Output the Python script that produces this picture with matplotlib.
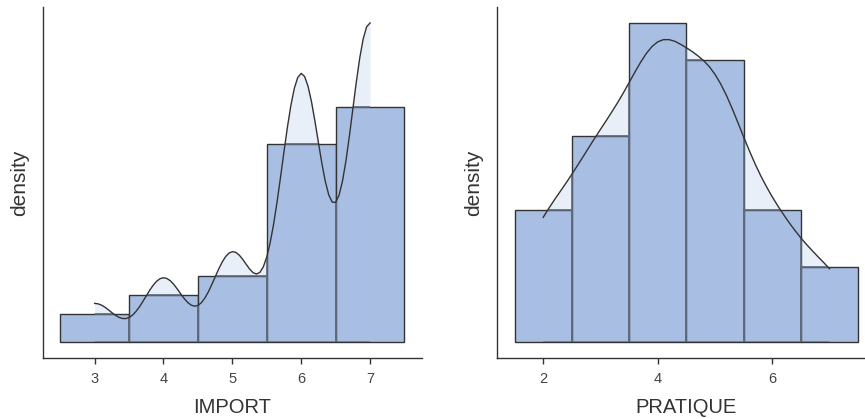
import numpy as np
import matplotlib
matplotlib.use("Agg")
import matplotlib.pyplot as plt

plt.rcParams['font.family'] = ['Liberation Sans', 'DejaVu Sans']

# IMPORT: histogram densities (bin width 1, centred on integers)
import_bins = [3, 4, 5, 6, 7]
import_dens = [0.0492, 0.0820, 0.1148, 0.3443, 0.4098]
# density curve, x from 3 to 7 in 0.05 steps
import_curve_x = np.round(np.arange(3, 7.001, 0.05), 2)
import_curve_y = [0.0668, 0.0661, 0.0638, 0.0602, 0.0557, 0.0508, 0.0463, 0.0427, 0.0406, 0.0403,
                  0.0422, 0.0464, 0.0527, 0.0607, 0.0701, 0.0800, 0.0898, 0.0985, 0.1054, 0.1099,
                  0.1115, 0.1102, 0.1062, 0.0999, 0.0920, 0.0835, 0.0754, 0.0686, 0.0639, 0.0620,
                  0.0633, 0.0680, 0.0760, 0.0866, 0.0992, 0.1128, 0.1262, 0.1383, 0.1480, 0.1543,
                  0.1570, 0.1557, 0.1510, 0.1437, 0.1351, 0.1268, 0.1205, 0.1180, 0.1209, 0.1305,
                  0.1478, 0.1729, 0.2054, 0.2441, 0.2869, 0.3313, 0.3739, 0.4117, 0.4414, 0.4605,
                  0.4676, 0.4621, 0.4448, 0.4178, 0.3840, 0.3470, 0.3109, 0.2794, 0.2559, 0.2432,
                  0.2428, 0.2553, 0.2801, 0.3154, 0.3584, 0.4054, 0.4521, 0.4942, 0.5275, 0.5487,
                  0.5554]

# PRATIQUE
pratique_bins = [2, 3, 4, 5, 6, 7]
pratique_dens = [0.1148, 0.1803, 0.2787, 0.2459, 0.1148, 0.0656]
pratique_curve_x = np.round(np.arange(2, 7.001, 0.1), 2)
pratique_curve_y = [0.1088, 0.1168, 0.1244, 0.1316, 0.1389, 0.1464, 0.1542, 0.1621, 0.1701, 0.1780,
                    0.1857, 0.1933, 0.2011, 0.2091, 0.2176, 0.2266, 0.2356, 0.2443, 0.2520, 0.2581,
                    0.2622, 0.2641, 0.2641, 0.2626, 0.2600, 0.2570, 0.2537, 0.2500, 0.2458, 0.2405,
                    0.2337, 0.2253, 0.2152, 0.2038, 0.1915, 0.1790, 0.1669, 0.1554, 0.1449, 0.1354,
                    0.1266, 0.1185, 0.1109, 0.1037, 0.0970, 0.0907, 0.0849, 0.0795, 0.0742, 0.0691,
                    0.0638]

bar_col = '#A8BFE3'
fill_col = '#E9EFF8'
edge_col = '#333333'
edge_under = '#5f6b7c'   # edges look lighter where the density fill covers them
axis_col = '#333333'

fig = plt.figure(figsize=(8.65, 4.19), dpi=100)
ax1 = fig.add_axes([43/865, 61.3/419, 378.7/865, 350.7/419])
ax2 = fig.add_axes([497.4/865, 61.3/419, 378.0/865, 350.7/419])


def draw(ax, bins, dens, cx, cy, ticks, label):
    poly = ax.fill_between(cx, 0, cy, color=fill_col, lw=0, zorder=1)
    ax.bar(bins, dens, width=1.0, color=bar_col, edgecolor=edge_col, linewidth=1.0, zorder=2)
    # lighter edge overlay, clipped to the density area
    light = ax.bar(bins, dens, width=1.0, facecolor='none', edgecolor=edge_under,
                   linewidth=1.2, zorder=2.5)
    clip = poly.get_paths()[0]
    for p in light.patches:
        p.set_clip_path(clip, ax.transData)
    ax.plot(cx, cy, color='#333333', lw=1.0, zorder=3)
    lo, hi = bins[0] - 0.5, bins[-1] + 0.5
    pad = (hi - lo) * 0.05
    ax.set_xlim(lo - pad, hi + pad)
    top = max(max(dens), max(cy))
    ax.set_ylim(-top * 0.05, top * 1.05)
    ax.set_xticks(ticks)
    ax.set_yticks([])
    for s in ['top', 'right']:
        ax.spines[s].set_visible(False)
    for s in ['left', 'bottom']:
        ax.spines[s].set_color(axis_col)
        ax.spines[s].set_linewidth(1.0)
    ax.tick_params(axis='x', colors=axis_col, length=4, width=1.0, labelsize=10.5,
                   labelcolor='#444444', pad=6)
    ax.set_xlabel(label, fontsize=14.5, color='#333333', labelpad=9)
    ax.set_ylabel('density', fontsize=15, color='#333333', labelpad=10)


draw(ax1, import_bins, import_dens, import_curve_x, import_curve_y, [3, 4, 5, 6, 7], 'IMPORT')
draw(ax2, pratique_bins, pratique_dens, pratique_curve_x, pratique_curve_y, [2, 4, 6], 'PRATIQUE')

fig.savefig('out.png', dpi=100)
